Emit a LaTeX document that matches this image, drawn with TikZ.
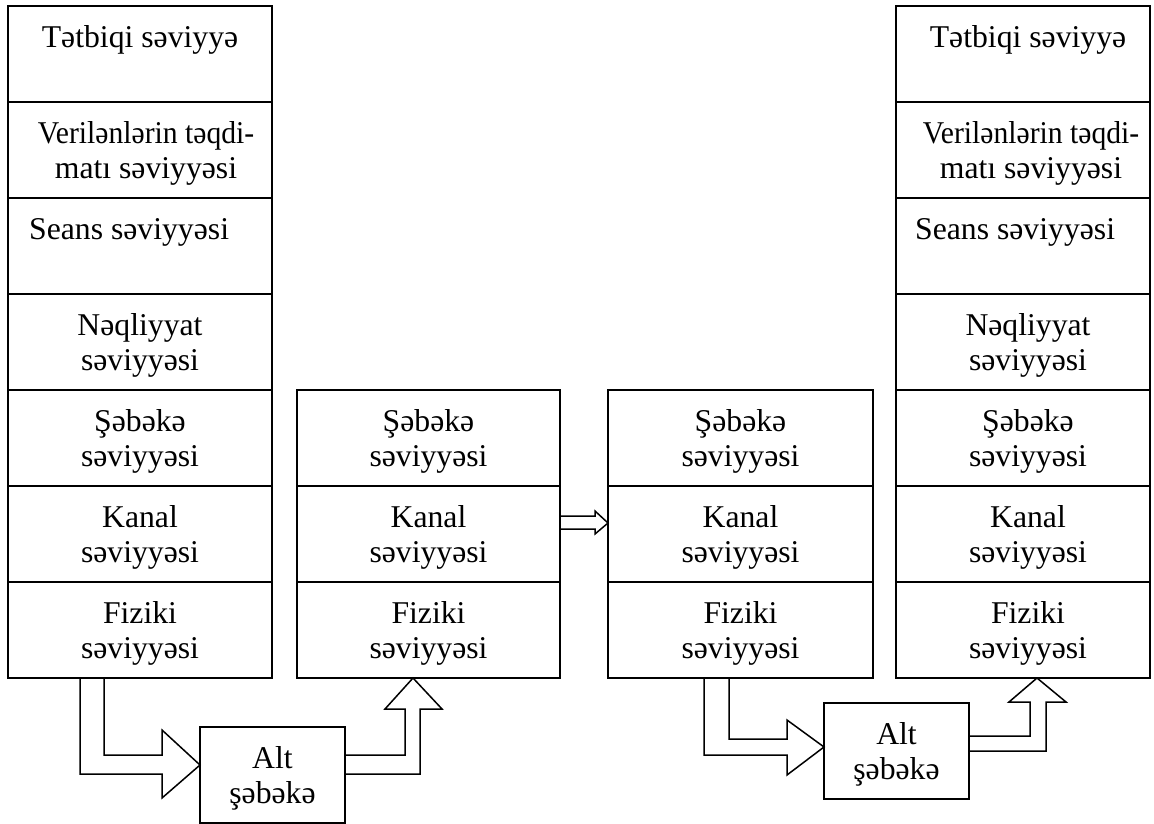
\documentclass[tikz,border=0pt]{standalone}
\usepackage{fontspec}
\usepackage{graphicx}
\setmainfont{Liberation Serif}
\usetikzlibrary{calc}
% strut fixing the top of every first text line
\newcommand\tstrut{\rule{0pt}{24pt}}
\begin{document}
\begin{tikzpicture}[x=1pt,y=-1pt,
  cell/.style={draw, line width=1.5pt, rectangle, inner sep=0pt, outer sep=0pt,
    minimum width=264, minimum height=96, anchor=north west},
  txt/.style={inner sep=0pt, align=center, anchor=north,
    font=\fontsize{31.7}{35}\selectfont},
  txtl/.style={txt, align=left, anchor=north west},
  hollow/.style={draw, line width=1.5pt, line join=miter}]
\useasboundingbox (0,0) rectangle (1154,824);

% ---- left stack: seven layers ----
\node[cell] (l1) at (8,6) {};
\node[cell] (l2) at (8,102) {};
\node[cell] (l3) at (8,198) {};
\node[cell] (l4) at (8,294) {};
\node[cell] (l5) at (8,390) {};
\node[cell] (l6) at (8,486) {};
\node[cell] (l7) at (8,582) {};
\node[txt] (l1t) at (140,23) {\tstrut T\char"0259tbiqi s\char"0259viyy\char"0259};
\node[txt] (l2t) at (146,119) {\tstrut\scalebox{0.935}[1]{Veril\char"0259nl\char"0259rin t\char"0259qdi-}\\mat\char"0131{} s\char"0259viyy\char"0259si};
\node[txtl] (l3t) at (29,215) {\tstrut Seans s\char"0259viyy\char"0259si};
\node[txt] (l4t) at (140,311) {\tstrut N\char"0259qliyyat\\s\char"0259viyy\char"0259si};
\node[txt] (l5t) at (140,407) {\tstrut \char"015E\char"0259b\char"0259k\char"0259\\s\char"0259viyy\char"0259si};
\node[txt] (l6t) at (140,503) {\tstrut Kanal\\s\char"0259viyy\char"0259si};
\node[txt] (l7t) at (140,599) {\tstrut Fiziki\\s\char"0259viyy\char"0259si};

% ---- first intermediate node ----
\node[cell, minimum width=263] (k5) at (297,390) {};
\node[cell, minimum width=263] (k6) at (297,486) {};
\node[cell, minimum width=263] (k7) at (297,582) {};
\node[txt] (k5t) at (428.5,407) {\tstrut \char"015E\char"0259b\char"0259k\char"0259\\s\char"0259viyy\char"0259si};
\node[txt] (k6t) at (428.5,503) {\tstrut Kanal\\s\char"0259viyy\char"0259si};
\node[txt] (k7t) at (428.5,599) {\tstrut Fiziki\\s\char"0259viyy\char"0259si};

% ---- second intermediate node ----
\node[cell, minimum width=265] (m5) at (608,390) {};
\node[cell, minimum width=265] (m6) at (608,486) {};
\node[cell, minimum width=265] (m7) at (608,582) {};
\node[txt] (m5t) at (740.5,407) {\tstrut \char"015E\char"0259b\char"0259k\char"0259\\s\char"0259viyy\char"0259si};
\node[txt] (m6t) at (740.5,503) {\tstrut Kanal\\s\char"0259viyy\char"0259si};
\node[txt] (m7t) at (740.5,599) {\tstrut Fiziki\\s\char"0259viyy\char"0259si};

% ---- right stack: seven layers ----
\node[cell, minimum width=254] (r1) at (896,6) {};
\node[cell, minimum width=254] (r2) at (896,102) {};
\node[cell, minimum width=254] (r3) at (896,198) {};
\node[cell, minimum width=254] (r4) at (896,294) {};
\node[cell, minimum width=254] (r5) at (896,390) {};
\node[cell, minimum width=254] (r6) at (896,486) {};
\node[cell, minimum width=254] (r7) at (896,582) {};
\node[txt] (r1t) at (1028,23) {\tstrut T\char"0259tbiqi s\char"0259viyy\char"0259};
\node[txt] (r2t) at (1031,119) {\tstrut\scalebox{0.935}[1]{Veril\char"0259nl\char"0259rin t\char"0259qdi-}\\mat\char"0131{} s\char"0259viyy\char"0259si};
\node[txtl] (r3t) at (915,215) {\tstrut Seans s\char"0259viyy\char"0259si};
\node[txt] (r4t) at (1028,311) {\tstrut N\char"0259qliyyat\\s\char"0259viyy\char"0259si};
\node[txt] (r5t) at (1028,407) {\tstrut \char"015E\char"0259b\char"0259k\char"0259\\s\char"0259viyy\char"0259si};
\node[txt] (r6t) at (1028,503) {\tstrut Kanal\\s\char"0259viyy\char"0259si};
\node[txt] (r7t) at (1028,599) {\tstrut Fiziki\\s\char"0259viyy\char"0259si};

% ---- sub-networks ----
\node[cell, minimum width=145] (alt1) at (200,727) {};
\node[txt] (alt1t) at (272.5,744) {\tstrut Alt\\\char"015F\char"0259b\char"0259k\char"0259};
\node[cell, minimum width=145] (alt2) at (824,703) {};
\node[txt] (alt2t) at (896.5,720) {\tstrut Alt\\\char"015F\char"0259b\char"0259k\char"0259};

% ---- hollow arrows ----
% left stack -> first sub-network
\draw[hollow] ([xshift=96]l7.south west) |- (162,755) -- (162,730)
  -- ([yshift=10]alt1.west) -- (162,798) -- (162,774) -| ([xshift=72]l7.south west);
% first sub-network -> first intermediate node
\draw[hollow] ([yshift=20]alt1.east) -| (405,709) -- (385,709)
  -- ([xshift=116]k7.south west) -- (442,709) -- (420,709) |- ([yshift=1]alt1.east);
% first intermediate node -> second intermediate node
\draw[hollow] ([yshift=18]k6.east) -- (595,516) -- (595,511)
  -- ([yshift=11]m6.west) -- (595,534) -- (595,529) -- ([yshift=5]k6.east);
% second intermediate node -> second sub-network
\draw[hollow] ([xshift=121]m7.south west) |- (787,739) -- (787,720)
  -- ([yshift=4]alt2.west) -- (787,775) -- (787,755) -| ([xshift=96]m7.south west);
% second sub-network -> right stack
\draw[hollow] ([yshift=15]alt2.east) -| (1030,702) -- (1009,702)
  -- ([xshift=141]r7.south west) -- (1066,702) -- (1046,702) |- (alt2.east);
\end{tikzpicture}
\end{document}
